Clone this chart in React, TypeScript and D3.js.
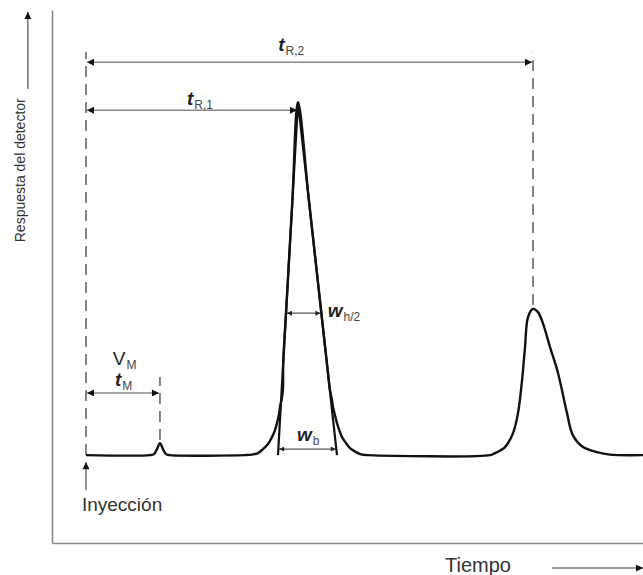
import React, { useRef, useEffect } from "react";
import * as d3 from "d3";

// Chromatogram, time in units where tR,2 = 10, response in units where the first peak = 100
const traceTime = [
  0, 1.432, 1.521, 1.588, 1.655, 1.723, 1.79, 1.879, 3.557, 3.714, 3.848, 3.96, 4.072, 4.161,
  4.228, 4.273, 4.318, 4.34, 4.385, 4.407, 4.412, 4.474, 4.617, 4.743, 4.987, 5.266, 5.389,
  5.459, 5.503, 5.526, 5.57, 5.615, 5.682, 5.727, 5.817, 5.906, 6.04, 6.174, 6.309, 9.038,
  9.15, 9.374, 9.553, 9.664, 9.754, 9.821, 9.888, 10, 10.11, 10.22, 10.38, 10.56, 10.76,
  10.89, 11.12, 11.43, 11.72, 12.46,
];
const traceResponse = [
  0, 0, 0.28, 1.7, 3.4, 1.7, 0.28, 0, 0, 0.14, 0.57, 1.7, 3.12, 5.1, 7.08, 9.07, 11.6, 13.6,
  16.4, 19.0, 26.1, 40.2, 72.2, 100, 72.2, 40.2, 26.1, 18.4, 15.6, 13.6, 11.3, 9.07, 6.52,
  5.1, 3.4, 1.98, 0.85, 0.14, 0, 0, 0.57, 2.27, 6.23, 11.9, 21.2, 30.6, 39.1, 41.4, 40.5,
  37.4, 30.6, 23.2, 11.9, 5.67, 2.27, 0.85, 0.14, 0,
];

// tangents of peak 1
const tangentTime = [4.295, 4.743, 5.615];
const tangentResponse = [0, 100, 0];

const tM = 1.655;
const tR1 = 4.743;
const tR2 = 10;

// dashed markers: time, from response, to response
const dashTime = [0, tM, tR2];
const dashFrom = [0, 4.25, 42.5];
const dashTo = [114.2, 22.1, 114.0];

// double arrows: start time, end time, response level
const arrowStart = [0, 0, 0];
const arrowEnd = [tR2, tR1, tM];
const arrowLevel = [111.3, 97.7, 17.6];

// small width arrows
const widthStart = [4.474, 4.3];
const widthEnd = [5.266, 5.61];
const widthLevel = [40.2, 1.7];

const labelMain = ["t", "t", "V", "t", "w", "w"];
const labelSub = ["R,2", "R,1", "M", "M", "h/2", "b"];
const labelTime = [4.3, 2.26, 0.6, 0.65, 5.41, 4.72];
const labelResp = [114.4, 99.2, 25.5, 19.5, 39.1, 3.9];

function Chromatogram() {
  const ref = useRef(null);

  useEffect(() => {
    const svg = d3.select(ref.current);
    svg.selectAll("*").remove();

    const x = d3.scaleLinear().domain([-0.76, 12.46]).range([52, 643]);
    const y = d3.scaleLinear().domain([-24.9, 126.1]).range([543, 10]);
    const font = "'Liberation Sans', Arial, sans-serif";

    const defs = svg.append("defs");
    const marker = (id, w, h, color) =>
      defs
        .append("marker")
        .attr("id", id)
        .attr("viewBox", "0 0 10 10")
        .attr("refX", 10)
        .attr("refY", 5)
        .attr("markerUnits", "userSpaceOnUse")
        .attr("markerWidth", w)
        .attr("markerHeight", h)
        .attr("orient", "auto-start-reverse")
        .append("path")
        .attr("d", "M0,0L10,5L0,10z")
        .attr("fill", color);
    marker("head", 11, 7, "#111");
    marker("small", 7, 5, "#222");

    // frame
    svg
      .append("g")
      .attr("transform", `translate(${x(-0.76)},0)`)
      .call(d3.axisLeft(y).ticks(0).tickSizeOuter(0));
    svg
      .append("g")
      .attr("transform", `translate(0,${y(-24.9)})`)
      .call(d3.axisBottom(x).ticks(0).tickSizeOuter(0));
    svg.selectAll(".domain").attr("stroke", "#8a8a8a").attr("stroke-width", 1.6);

    // dashed lines
    dashTime.forEach((t, i) => {
      svg
        .append("line")
        .attr("x1", x(t))
        .attr("x2", x(t))
        .attr("y1", y(dashFrom[i]))
        .attr("y2", y(dashTo[i]))
        .attr("stroke", "#666")
        .attr("stroke-width", 1.6)
        .attr("stroke-dasharray", "11,7");
    });

    // retention arrows
    arrowStart.forEach((t, i) => {
      svg
        .append("line")
        .attr("x1", x(t) + 1)
        .attr("x2", x(arrowEnd[i]) - 1)
        .attr("y1", y(arrowLevel[i]))
        .attr("y2", y(arrowLevel[i]))
        .attr("stroke", "#8a8a8a")
        .attr("stroke-width", 1.6)
        .attr("marker-start", "url(#head)")
        .attr("marker-end", "url(#head)");
    });

    widthStart.forEach((t, i) => {
      svg
        .append("line")
        .attr("x1", x(t) + 1)
        .attr("x2", x(widthEnd[i]) - 1)
        .attr("y1", y(widthLevel[i]))
        .attr("y2", y(widthLevel[i]))
        .attr("stroke", "#555")
        .attr("stroke-width", 1.2)
        .attr("marker-start", "url(#small)")
        .attr("marker-end", "url(#small)");
    });

    // tangents and trace
    const straight = d3
      .line()
      .x((d) => x(d[0]))
      .y((d) => y(d[1]));
    svg
      .append("path")
      .attr("d", straight(d3.zip(tangentTime, tangentResponse)))
      .attr("fill", "none")
      .attr("stroke", "#111")
      .attr("stroke-width", 2.2)
      .attr("stroke-linejoin", "miter");

    const smooth = d3
      .line()
      .x((d) => x(d[0]))
      .y((d) => y(d[1]))
      .curve(d3.curveCatmullRom.alpha(0.5));
    svg
      .append("path")
      .attr("d", smooth(d3.zip(traceTime, traceResponse)))
      .attr("fill", "none")
      .attr("stroke", "#111")
      .attr("stroke-width", 2.4);

    // injection arrow, axis arrows
    const plainArrow = (x1, y1, x2, y2) =>
      svg
        .append("line")
        .attr("x1", x1)
        .attr("y1", y1)
        .attr("x2", x2)
        .attr("y2", y2)
        .attr("stroke", "#777")
        .attr("stroke-width", 1.6)
        .attr("marker-end", "url(#head)");
    plainArrow(x(0), y(-9.9), x(0), y(-2.0));
    plainArrow(x(-1.3), y(103.7), x(-1.3), y(125.5));
    plainArrow(x(10.43), y(-32.0), x(12.46), y(-32.0));

    // annotations
    labelMain.forEach((m, i) => {
      const t = svg
        .append("text")
        .attr("x", x(labelTime[i]))
        .attr("y", y(labelResp[i]))
        .attr("font-family", font)
        .attr("fill", "#222");
      t.append("tspan")
        .text(m)
        .attr("font-size", 19)
        .attr("font-weight", m === "V" ? "normal" : "bold")
        .attr("font-style", m === "V" ? "normal" : "italic");
      t.append("tspan")
        .text(labelSub[i])
        .attr("font-size", 12)
        .attr("dx", 1)
        .attr("dy", 4)
        .attr("fill", "#444");
    });

    svg
      .append("text")
      .attr("x", x(-0.09))
      .attr("y", y(-15.9))
      .attr("font-family", font)
      .attr("font-size", 19)
      .attr("fill", "#333")
      .text("Inyección");

    svg
      .append("text")
      .attr("x", 445)
      .attr("y", y(-33.1))
      .attr("font-family", font)
      .attr("font-size", 20)
      .attr("fill", "#333")
      .text("Tiempo");

    svg
      .append("text")
      .attr("transform", `translate(${x(-1.36)},${y(80.7)}) rotate(-90)`)
      .attr("text-anchor", "middle")
      .attr("font-family", font)
      .attr("font-size", 14)
      .attr("fill", "#333")
      .text("Respuesta del detector");
  }, []);

  return (
    <svg
      ref={ref}
      width="643"
      height="575"
      style={{ position: "absolute", left: 0, top: 0, background: "#fff" }}
    ></svg>
  );
}

export default function App() {
  return <Chromatogram />;
}
